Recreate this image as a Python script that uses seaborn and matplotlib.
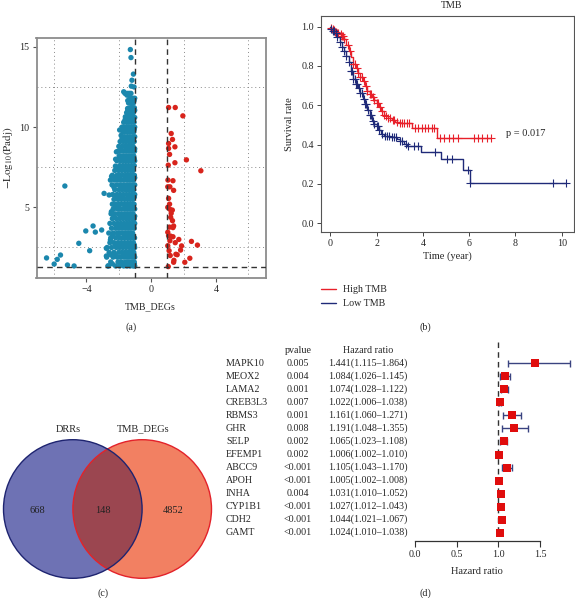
import numpy as np
import pandas as pd
import seaborn as sns
import matplotlib
matplotlib.use("Agg")
import matplotlib.pyplot as plt
from matplotlib.patches import Circle
from matplotlib.lines import Line2D
from matplotlib import transforms

sns.set_theme(style="white", context="paper")
plt.rcParams['font.family'] = ['Liberation Serif', 'DejaVu Serif']
plt.rcParams['mathtext.fontset'] = 'stix'

W, H = 575, 598

def rect(l, t, r, b):
    # pixel box -> figure fraction
    return [l / W, 1 - b / H, (r - l) / W, (b - t) / H]

# ---------------- data ----------------
# (a) volcano: up-regulated genes (logFC, -log10 padj)
up_points = [(1.07, 11.22), (1.48, 11.22), (1.95, 10.70), (1.23, 9.6), (1.31, 9.23),
             (1.07, 8.98), (1.46, 8.77), (1.07, 8.67), (1.13, 8.3), (2.17, 7.96),
             (1.46, 7.78), (1.05, 7.63), (3.06, 7.28), (1.03, 6.70), (1.34, 6.66),
             (1.02, 6.28), (1.15, 6.28), (1.38, 6.06), (1.07, 5.56), (1.13, 5.2),
             (1.02, 5.0), (1.15, 4.88), (1.3, 4.83), (1.23, 4.63), (1.2, 4.38),
             (1.31, 4.17), (1.38, 3.84), (1.34, 3.74), (1.13, 3.77), (1.07, 3.23),
             (1.19, 3.21), (1.34, 3.17), (1.7, 3.0), (2.48, 2.88), (2.85, 2.65),
             (1.02, 2.61), (1.15, 2.92), (1.48, 2.8), (1.87, 2.6), (1.81, 2.34),
             (1.1, 2.3), (1.52, 2.08), (1.17, 2.0), (2.38, 1.83), (1.4, 1.7),
             (2.07, 1.58), (1.38, 1.58), (1.05, 1.31), (1.6, 2.05), (1.02, 3.45)]

# down-regulated genes, isolated points
down_points = [(-5.33, 6.33), (-2.91, 5.87), (-2.6, 5.77), (-4.04, 3.53), (-3.59, 3.84),
               (-3.45, 3.46), (-3.06, 3.59), (-4.47, 2.76), (-3.8, 2.3), (-6.46, 1.85),
               (-5.6, 2.03), (-5.8, 1.76), (-5.99, 1.47), (-5.17, 1.41), (-4.76, 1.35),
               (-2.67, 1.35), (-2.77, 1.97), (-2.77, 2.45), (-2.52, 2.97), (-2.52, 6.7),
               (-2.45, 6.93), (-2.21, 7.57), (-2.15, 8.46), (-2.2, 8.0), (-1.95, 9.82),
               (-1.86, 9.48), (-1.6, 10.64), (-1.46, 11.16), (-1.29, 14.83), (-1.25, 14.33),
               (-1.19, 12.92), (-1.23, 12.55), (-1.7, 12.2), (-1.5, 11.99), (-1.06, 12.5),
               (-1.19, 11.47), (-2.46, 4.73), (-1.1, 13.3)]

# down-regulated genes, dense band read row by row (-log10 padj, logFC values)
down_rows = [
    (1.35, [-2.65, -2.2, -1.95, -1.7, -1.5, -1.3, -1.12, -1.02]),
    (1.6, [-2.5, -2.05, -1.85, -1.6, -1.42, -1.22, -1.05]),
    (1.9, [-2.75, -2.35, -2.1, -1.9, -1.7, -1.5, -1.33, -1.15, -1.02]),
    (2.2, [-2.6, -2.3, -2.0, -1.8, -1.6, -1.4, -1.25, -1.08]),
    (2.5, [-2.72, -2.45, -2.15, -1.95, -1.75, -1.55, -1.35, -1.18, -1.02]),
    (2.8, [-2.55, -2.3, -2.05, -1.85, -1.65, -1.45, -1.28, -1.1]),
    (3.1, [-2.5, -2.2, -1.98, -1.78, -1.58, -1.4, -1.2, -1.03]),
    (3.4, [-2.62, -2.35, -2.1, -1.9, -1.7, -1.5, -1.32, -1.15]),
    (3.7, [-2.45, -2.2, -2.0, -1.8, -1.6, -1.42, -1.25, -1.05]),
    (4.0, [-2.55, -2.3, -2.08, -1.88, -1.68, -1.5, -1.33, -1.15, -1.02]),
    (4.3, [-2.4, -2.15, -1.95, -1.75, -1.55, -1.38, -1.2, -1.05]),
    (4.6, [-2.48, -2.25, -2.02, -1.82, -1.62, -1.45, -1.28, -1.12]),
    (4.9, [-2.35, -2.1, -1.9, -1.7, -1.52, -1.35, -1.18, -1.02]),
    (5.2, [-2.4, -2.18, -1.97, -1.77, -1.58, -1.4, -1.22, -1.06]),
    (5.5, [-2.3, -2.05, -1.85, -1.65, -1.47, -1.3, -1.13]),
    (5.8, [-2.38, -2.12, -1.92, -1.72, -1.53, -1.35, -1.18, -1.02]),
    (6.1, [-2.25, -2.0, -1.8, -1.6, -1.42, -1.25, -1.08]),
    (6.4, [-2.42, -2.15, -1.92, -1.72, -1.52, -1.35, -1.17, -1.02]),
    (6.7, [-2.28, -2.05, -1.85, -1.65, -1.45, -1.28, -1.1]),
    (7.0, [-2.4, -2.12, -1.95, -1.75, -1.55, -1.38, -1.2, -1.04]),
    (7.3, [-2.25, -2.02, -1.82, -1.62, -1.45, -1.28, -1.12]),
    (7.6, [-1.95, -1.75, -1.57, -1.4, -1.22, -1.05]),
    (7.9, [-2.12, -1.88, -1.68, -1.5, -1.33, -1.16, -1.02]),
    (8.2, [-1.98, -1.78, -1.6, -1.42, -1.25, -1.08]),
    (8.5, [-2.05, -1.9, -1.7, -1.52, -1.35, -1.18, -1.03]),
    (8.8, [-2.0, -1.8, -1.62, -1.45, -1.28, -1.12]),
    (9.1, [-1.92, -1.72, -1.55, -1.38, -1.22, -1.05]),
    (9.4, [-1.66, -1.48, -1.32, -1.15, -1.02]),
    (9.7, [-1.75, -1.58, -1.42, -1.25, -1.08]),
    (10.0, [-1.8, -1.62, -1.45, -1.3, -1.15, -1.02]),
    (10.3, [-1.7, -1.52, -1.38, -1.22, -1.06]),
    (10.6, [-1.45, -1.3, -1.15, -1.02]),
    (10.9, [-1.52, -1.38, -1.24, -1.1]),
    (11.2, [-1.32, -1.18, -1.04]),
    (11.5, [-1.4, -1.25, -1.1]),
    (11.8, [-1.32, -1.15, -1.02]),
    (12.1, [-1.62, -1.55, -1.45, -1.35, -1.25]),
]

# extra genes packed in between the rows, closest to the cut-off
down_rows_mid = [
    (1.48, [-2.4, -1.82, -1.58, -1.38, -1.2, -1.04]),
    (2.05, [-2.5, -2.22, -1.75, -1.55, -1.27, -1.06]),
    (2.65, [-2.2, -1.88, -1.62, -1.4, -1.22, -1.04]),
    (3.25, [-2.38, -2.05, -1.66, -1.46, -1.28, -1.1]),
    (3.85, [-2.15, -1.92, -1.72, -1.5, -1.3, -1.08]),
    (4.45, [-2.3, -1.88, -1.66, -1.46, -1.25, -1.02]),
    (5.05, [-2.22, -2.0, -1.62, -1.44, -1.28, -1.1]),
    (5.65, [-2.15, -1.95, -1.77, -1.4, -1.22, -1.04]),
    (6.25, [-2.3, -1.88, -1.66, -1.48, -1.3, -1.12]),
    (6.85, [-2.18, -1.95, -1.58, -1.35, -1.15, -1.02]),
    (7.45, [-2.08, -1.88, -1.66, -1.5, -1.32, -1.15]),
    (8.05, [-1.98, -1.78, -1.58, -1.4, -1.22, -1.05]),
    (8.65, [-1.88, -1.55, -1.38, -1.2, -1.02]),
    (9.25, [-1.8, -1.62, -1.45, -1.3, -1.12]),
    (9.85, [-1.7, -1.52, -1.36, -1.2, -1.05]),
    (10.45, [-1.62, -1.45, -1.28, -1.1]),
    (11.05, [-1.45, -1.3, -1.16, -1.02]),
    (11.65, [-1.45, -1.2, -1.06]),
]

# (b) Kaplan-Meier, High TMB / Low TMB
high_time = [0, 0.05, 0.1, 0.15, 0.2, 0.3, 0.4, 0.5, 0.6, 0.7, 0.8, 0.9, 1.0, 1.1, 1.2,
             1.3, 1.4, 1.5, 1.6, 1.7, 1.8, 1.9, 2.0, 2.1, 2.2, 2.3, 2.4, 2.5, 2.65, 2.8,
             3.0, 3.55, 4.6, 6.95]
high_surv = [1.0, 0.995, 0.99, 0.985, 0.975, 0.968, 0.962, 0.95, 0.935, 0.905, 0.875,
             0.845, 0.81, 0.79, 0.765, 0.746, 0.725, 0.7, 0.675, 0.655, 0.64, 0.625, 0.61,
             0.59, 0.57, 0.553, 0.545, 0.535, 0.525, 0.517, 0.508, 0.483, 0.432, 0.432]
high_censor = [0.05, 0.1, 0.15, 0.2, 0.25, 0.35, 0.45, 0.5, 0.55, 0.6, 0.75, 0.85, 1.0,
               1.05, 1.15, 1.2, 1.3, 1.35, 1.45, 1.55, 1.6, 1.7, 1.75, 1.85, 1.9, 2.0,
               2.05, 2.15, 2.25, 2.3, 2.4, 2.5, 2.6, 2.7, 2.75, 2.9, 3.0, 3.1, 3.2, 3.3,
               3.4, 3.65, 3.8, 3.95, 4.1, 4.24, 4.38, 4.5, 4.74, 4.93, 5.14, 5.32, 5.5,
               6.22, 6.4, 6.57, 6.76, 6.95]
low_time = [0, 0.05, 0.1, 0.2, 0.3, 0.4, 0.5, 0.6, 0.7, 0.8, 0.9, 1.0, 1.1, 1.2, 1.3,
            1.4, 1.5, 1.6, 1.7, 1.8, 1.9, 2.0, 2.1, 2.2, 2.3, 2.6, 2.9, 3.0, 3.2, 3.3,
            3.9, 4.77, 5.72, 6.04, 10.2]
low_surv = [1.0, 0.99, 0.98, 0.965, 0.945, 0.92, 0.898, 0.875, 0.85, 0.82, 0.775, 0.735,
            0.71, 0.69, 0.66, 0.63, 0.605, 0.578, 0.548, 0.52, 0.505, 0.495, 0.475, 0.455,
            0.445, 0.44, 0.43, 0.42, 0.405, 0.395, 0.364, 0.325, 0.271, 0.203, 0.203]
low_censor = [0.05, 0.1, 0.15, 0.25, 0.3, 0.4, 0.5, 0.6, 0.7, 0.8, 0.9, 0.95, 1.0, 1.05,
              1.1, 1.15, 1.25, 1.3, 1.35, 1.45, 1.5, 1.55, 1.65, 1.7, 1.75, 1.85, 1.9, 2.0,
              2.05, 2.1, 2.25, 2.35, 2.45, 2.55, 2.65, 2.75, 2.85, 3.0, 3.1, 3.25, 3.35,
              3.6, 3.8, 4.52, 5.03, 5.25, 5.96, 6.04, 9.6, 10.17]

# (c) Venn counts
venn_sets = ['DRRs', 'TMB_DEGs']
venn_counts = [668, 148, 4852]

# (d) forest plot
genes = ['MAPK10', 'MEOX2', 'LAMA2', 'CREB3L3', 'RBMS3', 'GHR', 'SELP', 'EFEMP1',
         'ABCC9', 'APOH', 'INHA', 'CYP1B1', 'CDH2', 'GAMT']
pvalues = ['0.005', '0.004', '0.001', '0.007', '0.001', '0.008', '0.002', '0.002',
           '<0.001', '<0.001', '0.004', '<0.001', '<0.001', '<0.001']
hr = [1.441, 1.084, 1.074, 1.022, 1.161, 1.191, 1.065, 1.006, 1.105, 1.005, 1.031, 1.027, 1.044, 1.024]
hr_low = [1.115, 1.026, 1.028, 1.006, 1.060, 1.048, 1.023, 1.002, 1.043, 1.002, 1.010, 1.012, 1.021, 1.010]
hr_high = [1.864, 1.145, 1.122, 1.038, 1.271, 1.355, 1.108, 1.010, 1.170, 1.008, 1.052, 1.043, 1.067, 1.038]

BLUE = '#1b87ad'
RED = '#d8241c'
KM_RED = '#e8202a'
KM_NAVY = '#1f2a78'
FS = 7.2

fig = plt.figure(figsize=(W / 100, H / 100), dpi=100)

# ---------------- (a) volcano ----------------
rows = []
for x, y in up_points:
    rows.append((x, y, 'up'))
for x, y in down_points:
    rows.append((x, y, 'down'))
for y, xs in down_rows + down_rows_mid:
    for x in xs:
        rows.append((x, y, 'down'))
volc = pd.DataFrame(rows, columns=['logFC', 'nlp', 'group'])

ax1 = fig.add_axes(rect(36.5, 38, 266, 278))
sns.scatterplot(data=volc, x='logFC', y='nlp', hue='group',
                palette={'up': RED, 'down': BLUE}, s=15, linewidth=0,
                legend=False, ax=ax1, zorder=3)
ax1.set_xlim(-7.08, 7.08)
ax1.set_ylim(0.6, 15.55)
ax1.set_xticks([-4, 0, 4])
ax1.set_yticks([5, 10, 15])
ax1.set_xticks([-6, -4, -2, 0, 2, 4, 6], minor=True)
ax1.set_yticks([2.5, 5, 7.5, 10, 12.5, 15], minor=True)
ax1.grid(which='minor', linestyle=(0, (1, 3)), color='#8a8a8a', linewidth=0.7)
ax1.grid(which='major', visible=False)
ax1.tick_params(which='minor', length=0)
ax1.tick_params(which='major', length=3, width=0.8, color='#555555', labelsize=FS,
                bottom=True, left=True, direction='out', pad=2)
for sp in ax1.spines.values():
    sp.set_color('#8c8c8c')
    sp.set_linewidth(1.3)
for xv in [-1, 1]:
    ax1.axvline(xv, color='#333333', linestyle=(0, (4, 3)), linewidth=1, zorder=4)
ax1.axhline(-np.log10(0.05), color='#333333', linestyle=(0, (4, 3)), linewidth=1, zorder=4)
ax1.set_xlabel('')
ax1.set_ylabel(r'$-\mathrm{Log}_{10}\mathrm{(Padj)}$', fontsize=FS + 0.8, labelpad=3)
fig.text(150 / W, 1 - 307 / H, 'TMB_DEGs', ha='center', va='center', fontsize=FS)
fig.text(130.7 / W, 1 - 327 / H, '(a)', ha='center', va='center', fontsize=FS)

# ---------------- (b) Kaplan-Meier ----------------
ax2 = fig.add_axes(rect(320.8, 16, 574.3, 231.7))
km = pd.concat([
    pd.DataFrame({'time': high_time, 'surv': high_surv, 'group': 'High TMB'}),
    pd.DataFrame({'time': low_time, 'surv': low_surv, 'group': 'Low TMB'}),
])
sns.lineplot(data=km, x='time', y='surv', hue='group', estimator=None, sort=False,
             palette={'High TMB': KM_RED, 'Low TMB': KM_NAVY}, drawstyle='steps-post',
             linewidth=1.0, legend=False, ax=ax2)
for times, surv, cens, col in [(high_time, high_surv, high_censor, KM_RED),
                               (low_time, low_surv, low_censor, KM_NAVY)]:
    t = np.array(times)
    s = np.array(surv)
    c = np.array(cens)
    cy = s[np.searchsorted(t, c, side='right') - 1]
    ax2.plot(c, cy, linestyle='none', marker='+', color=col, markersize=5.5,
             markeredgewidth=0.8)
ax2.set_xlim(-0.41, 10.54)
ax2.set_ylim(-0.043, 1.054)
ax2.set_xticks(range(0, 11, 2))
ax2.set_yticks([0, 0.2, 0.4, 0.6, 0.8, 1.0])
ax2.set_yticklabels(['0.0', '0.2', '0.4', '0.6', '0.8', '1.0'])
ax2.tick_params(length=3, width=0.7, labelsize=FS, bottom=True, left=True,
                direction='out', pad=2, color='#444444')
for sp in ax2.spines.values():
    sp.set_color('#555555')
    sp.set_linewidth(0.8)
ax2.set_xlabel('Time (year)', fontsize=FS + 0.3, labelpad=3)
ax2.set_ylabel('Survival rate', fontsize=FS + 0.3, labelpad=5)
ax2.text(7.6, 0.455, 'p = 0.017', fontsize=FS + 0.3, va='center', ha='left')
fig.text(452 / W, 1 - 5 / H, 'TMB', ha='center', va='center', fontsize=FS)
handles = [Line2D([], [], color=KM_RED, linewidth=1.0),
           Line2D([], [], color=KM_NAVY, linewidth=1.0)]
fig.legend(handles, ['High TMB', 'Low TMB'], loc='upper left',
           bbox_to_anchor=(321 / W, 1 - 285 / H), frameon=False, fontsize=FS,
           handlelength=1.5, handletextpad=0.7, labelspacing=0.55, borderpad=0,
           borderaxespad=0)
fig.text(425 / W, 1 - 327 / H, '(b)', ha='center', va='center', fontsize=FS)

# ---------------- (c) Venn ----------------
ax3 = fig.add_axes(rect(0, 420, 215, 585))
ax3.set_xlim(0, 215)
ax3.set_ylim(585, 420)
ax3.axis('off')
c_left = (72.8, 509)
c_right = (142.2, 509)
r = 69.3
blue_fill = Circle(c_left, r, facecolor='#6e72b4', edgecolor='none')
red_fill = Circle(c_right, r, facecolor='#f28062', edgecolor='none')
ax3.add_patch(blue_fill)
ax3.add_patch(red_fill)
inter = Circle(c_right, r, facecolor='#9b4650', edgecolor='none')
ax3.add_patch(inter)
inter.set_clip_path(blue_fill)
ax3.add_patch(Circle(c_right, r, facecolor='none', edgecolor='#e3222a', linewidth=1.0))
ax3.add_patch(Circle(c_left, r, facecolor='none', edgecolor='#1e2470', linewidth=1.0))
ax3.text(68, 429, venn_sets[0], ha='center', va='center', fontsize=FS + 0.3)
ax3.text(142.7, 429, venn_sets[1], ha='center', va='center', fontsize=FS + 0.3)
for xv, n in zip([37.7, 103.3, 173.3], venn_counts):
    ax3.text(xv, 510.5, str(n), ha='center', va='center', fontsize=FS + 0.3,
             color='#222222')
fig.text(103.3 / W, 1 - 593 / H, '(c)', ha='center', va='center', fontsize=FS)

# ---------------- (d) forest ----------------
ax4 = fig.add_axes(rect(415, 335, 575, 540.7))
row_top = 363.3
row_step = 13.03
ax4.set_ylim((540.7 - row_top) / row_step, (335 - row_top) / row_step)
ax4.set_xlim(0, 160 / 83.3)
forest = pd.DataFrame({'gene': genes, 'hr': hr, 'lo': hr_low, 'hi': hr_high,
                       'row': np.arange(len(genes))})
ax4.vlines(1.0, -1.66, 13.0, colors='#333333', linestyles=(0, (4, 3)), linewidth=1)
ax4.hlines(forest['row'], forest['lo'], forest['hi'], colors='#3a4380', linewidth=1,
           clip_on=False, zorder=2)
ax4.vlines(forest['lo'], forest['row'] - 0.25, forest['row'] + 0.25, colors='#3a4380',
           linewidth=1, clip_on=False, zorder=2)
ax4.vlines(forest['hi'], forest['row'] - 0.25, forest['row'] + 0.25, colors='#3a4380',
           linewidth=1, clip_on=False, zorder=2)
sns.scatterplot(data=forest, x='hr', y='row', marker='s', color='#e00d0d', s=36,
                linewidth=0, ax=ax4, zorder=3, clip_on=False)
for sp in ['top', 'right', 'left']:
    ax4.spines[sp].set_visible(False)
ax4.spines['bottom'].set_bounds(0, 1.5)
ax4.spines['bottom'].set_color('#333333')
ax4.spines['bottom'].set_linewidth(0.9)
ax4.set_xticks([0, 0.5, 1.0, 1.5])
ax4.set_xticklabels(['0.0', '0.5', '1.0', '1.5'])
ax4.set_yticks([])
ax4.tick_params(axis='x', length=4, width=0.8, labelsize=FS, bottom=True,
                direction='out', pad=2.5, color='#333333')
ax4.set_xlabel('')
ax4.set_ylabel('')
fig.text(477 / W, 1 - 571.7 / H, 'Hazard ratio', ha='center', va='center', fontsize=FS + 0.3)
fig.text(425 / W, 1 - 593 / H, '(d)', ha='center', va='center', fontsize=FS)

trans = transforms.blended_transform_factory(fig.transFigure, ax4.transData)
ax4.text(298 / W, -1.0, 'pvalue', transform=trans, ha='center', va='center', fontsize=FS)
ax4.text(368 / W, -1.0, 'Hazard ratio', transform=trans, ha='center', va='center', fontsize=FS)
for i, g in enumerate(genes):
    ax4.text(226 / W, i, g, transform=trans, ha='left', va='center', fontsize=FS)
    ax4.text(298 / W, i, pvalues[i], transform=trans, ha='center', va='center', fontsize=FS)
    txt = f'{hr[i]:.3f}({hr_low[i]:.3f}\u2013{hr_high[i]:.3f})'
    ax4.text(368 / W, i, txt, transform=trans, ha='center', va='center', fontsize=FS)

fig.savefig('out.png', dpi=100)
